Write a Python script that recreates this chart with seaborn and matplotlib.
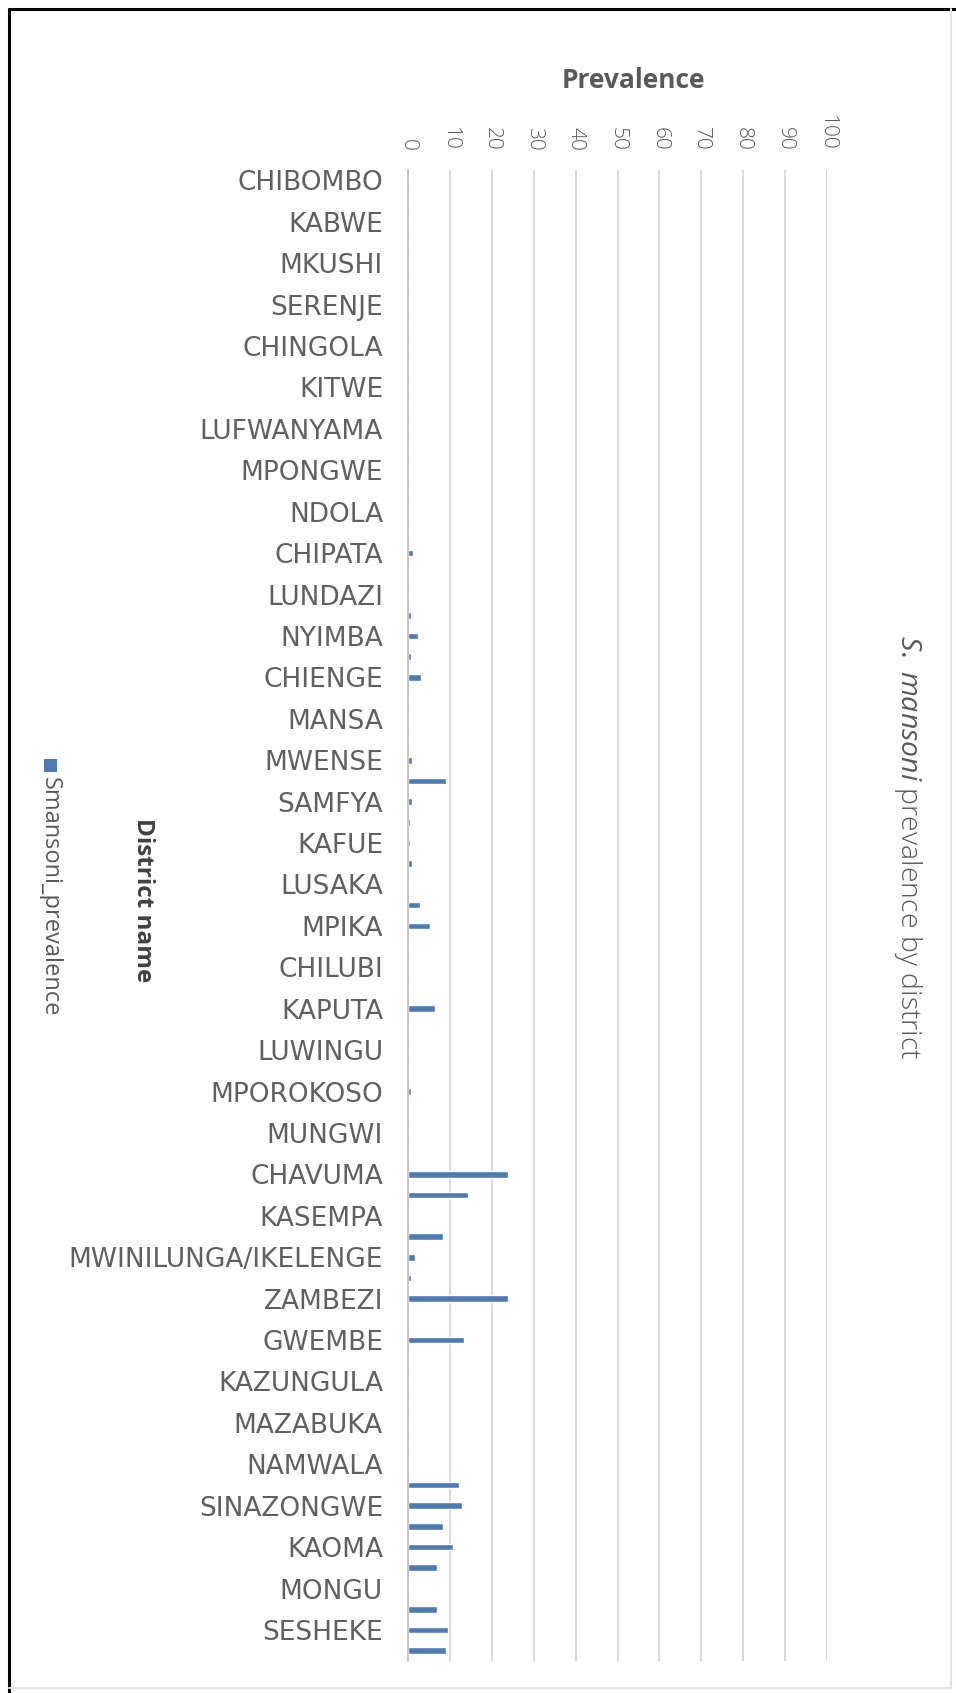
import matplotlib
matplotlib.use("Agg")
import matplotlib.pyplot as plt
from matplotlib.patches import Rectangle
from matplotlib.lines import Line2D
import pandas as pd
import seaborn as sns

# District rows, top to bottom (only every other row carries a visible label)
districts = [
    "CHIBOMBO", "CHISAMBA", "KABWE", "KAPIRI MPOSHI", "MKUSHI", "MUMBWA",
    "SERENJE", "CHILILABOMBWE", "CHINGOLA", "KALULUSHI", "KITWE", "LUANSHYA",
    "LUFWANYAMA", "MASAITI", "MPONGWE", "MUFULIRA", "NDOLA", "CHADIZA",
    "CHIPATA", "KATETE", "LUNDAZI", "MAMBWE", "NYIMBA", "PETAUKE",
    "CHIENGE", "KAWAMBWA", "MANSA", "MILENGE", "MWENSE", "NCHELENGE",
    "SAMFYA", "CHONGWE", "KAFUE", "LUANGWA", "LUSAKA", "CHINSALI",
    "MPIKA", "SHIWANG'ANDU", "CHILUBI", "KASAMA", "KAPUTA", "LUNTE",
    "LUWINGU", "MBALA", "MPOROKOSO", "MPULUNGU", "MUNGWI", "SENGA HILL",
    "CHAVUMA", "KABOMPO", "KASEMPA", "MUFUMBWE", "MWINILUNGA/IKELENGE", "SOLWEZI",
    "ZAMBEZI", "MANYINGA", "GWEMBE", "KALOMO", "KAZUNGULA", "LIVINGSTONE",
    "MAZABUKA", "MONZE", "NAMWALA", "SIAVONGA", "SINAZONGWE", "KALABO",
    "KAOMA", "LUKULU", "MONGU", "SENANGA", "SESHEKE", "SHANG'OMBO",
]

prevalence = [
    0, 0, 0, 0, 0, 0,
    0, 0, 0, 0, 0, 0,
    0, 0, 0, 0, 0, 0,
    1.2, 0, 0, 0.8, 2.4, 0.8,
    3.0, 0, 0, 0, 0.9, 9.0,
    0.9, 0.4, 0.4, 0.9, 0.3, 2.9,
    5.3, 0, 0, 0, 6.4, 0,
    0, 0, 0.8, 0, 0, 0,
    23.9, 14.4, 0, 8.4, 1.7, 0.6,
    23.9, 0, 13.4, 0, 0, 0,
    0, 0, 0, 12.2, 12.8, 8.4,
    10.7, 6.9, 0, 6.9, 9.6, 9.0,
]

x_ticks = [0, 10, 20, 30, 40, 50, 60, 70, 80, 90, 100]

df = pd.DataFrame({"District name": districts, "Smansoni_prevalence": prevalence})

sns.set_theme(style="white")
plt.rcParams["font.family"] = ["Open Sans", "DejaVu Sans"]
plt.rcParams["mathtext.fontset"] = "custom"
plt.rcParams["mathtext.rm"] = "Open Sans"
plt.rcParams["mathtext.it"] = "Open Sans:italic"

W, H = 956, 1693
fig = plt.figure(figsize=(W / 100, H / 100), dpi=100)
fig.patch.set_facecolor("white")

ax = fig.add_axes([408 / W, 32 / H, (827 - 408) / W, (1661 - 170) / H])

bar_color = "#4F7CB0"
sns.barplot(data=df, y="District name", x="Smansoni_prevalence", orient="h",
            order=districts, color=bar_color, width=0.32, ax=ax,
            saturation=1, errorbar=None)

ax.set_xlim(0, 100)
ax.set_xticks(x_ticks)
ax.xaxis.tick_top()
ax.tick_params(axis="x", which="both", length=0, pad=14, labelsize=15,
               labelcolor="#595959", labelrotation=-90)
for lbl in ax.get_xticklabels():
    lbl.set_fontweight("light")

# Only every other district is labelled on the category axis
yt = list(range(0, len(districts), 2))
ax.set_yticks(yt)
ax.set_yticklabels([districts[i] for i in yt], family=["DejaVu Sans"])
ax.tick_params(axis="y", length=0, pad=18, labelsize=19, labelcolor="#606060")

ax.grid(axis="x", color="#D9D9D9", linewidth=1.4)
ax.set_axisbelow(True)
for side in ["top", "right", "bottom"]:
    ax.spines[side].set_visible(False)
ax.spines["left"].set_color("#BFBFBF")
ax.spines["left"].set_linewidth(1.2)
ax.set_xlabel("")
ax.set_ylabel("")

# Axis titles and chart title
fig.text(633 / W, 1 - 81 / H, "Prevalence", ha="center", va="center",
         fontsize=19, fontweight="bold", color="#595959")
fig.text(143 / W, 1 - 900 / H, "District name", ha="center", va="center",
         rotation=-90, fontsize=17.5, fontweight="bold", color="#404040")
fig.text(908 / W, 1 - 847 / H, r"$\it{S.\ mansoni}$ prevalence by district",
         ha="center", va="center", rotation=-90, fontsize=20.5,
         fontweight="light", color="#595959")

# Legend entry, rotated with the rest of the chart
fig.patches.append(Rectangle((44 / W, 1 - 772 / H), 13 / W, 13 / H,
                             transform=fig.transFigure, facecolor=bar_color,
                             edgecolor="none"))
fig.text(50 / W, 1 - 777 / H, "Smansoni_prevalence", ha="center", va="top",
         rotation=-90, fontsize=17, color="#595959")

# Frame around the chart area
fig.lines.append(Line2D([9 / W, 9 / W], [0, 1 - 9 / H], transform=fig.transFigure,
                        color="black", linewidth=2.2))
fig.lines.append(Line2D([9 / W, 1], [1 - 9 / H, 1 - 9 / H], transform=fig.transFigure,
                        color="black", linewidth=2.2))
fig.lines.append(Line2D([951 / W, 951 / W], [5 / H, 1 - 9 / H], transform=fig.transFigure,
                        color="#E3E3E3", linewidth=1.5))
fig.lines.append(Line2D([9 / W, 951 / W], [5 / H, 5 / H], transform=fig.transFigure,
                        color="#E3E3E3", linewidth=1.5))

fig.savefig("out.png", dpi=100)
